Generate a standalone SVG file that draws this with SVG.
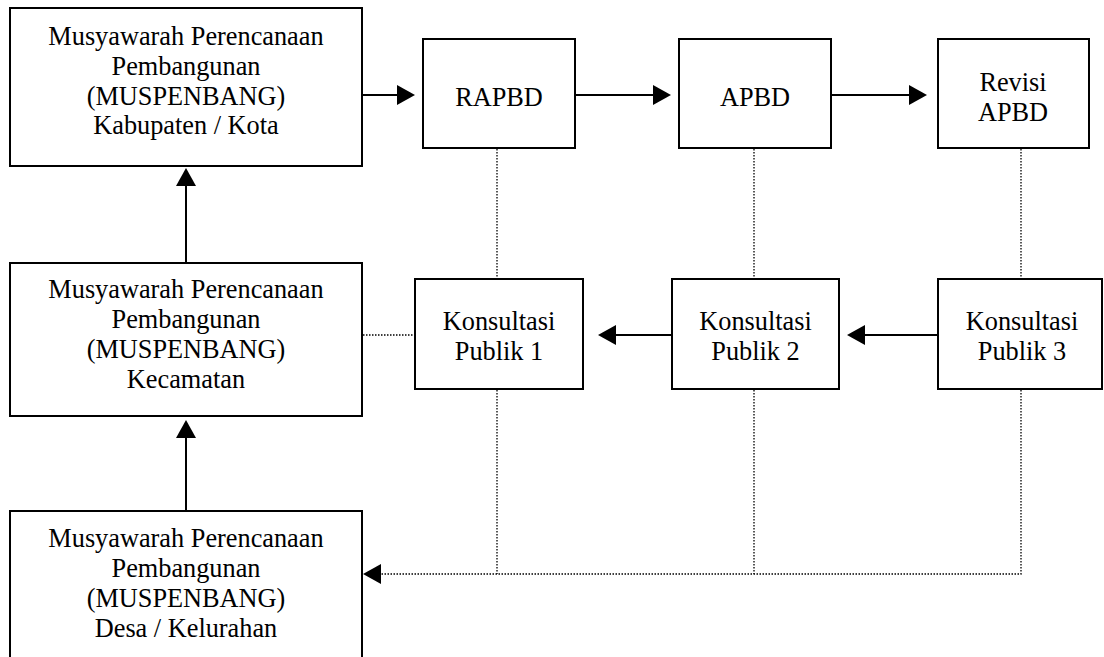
<svg xmlns="http://www.w3.org/2000/svg" width="1104" height="657" viewBox="0 0 1104 657">
<defs>
<style>
.box{fill:#fff;stroke:#000;stroke-width:2}
.t{font-family:"Liberation Serif","Times New Roman",serif;font-size:26.3px;fill:#000;text-anchor:middle}
.solid{fill:none;stroke:#000;stroke-width:2}
.dot{fill:none;stroke:#000;stroke-width:1.3;stroke-dasharray:1.5 1.5}
</style>
<marker id="ah" viewBox="0 0 18 20" refX="0" refY="10" markerWidth="18" markerHeight="20" markerUnits="userSpaceOnUse" orient="auto">
<path d="M0,0 L18,10 L0,20 z" fill="#000"/>
</marker>
</defs>
<rect width="1104" height="657" fill="#fff"/>
<g id="connectors">
<line class="solid" x1="362" y1="95" x2="397" y2="95" marker-end="url(#ah)"/>
<line class="solid" x1="575" y1="95" x2="653" y2="95" marker-end="url(#ah)"/>
<line class="solid" x1="831" y1="95" x2="909" y2="95" marker-end="url(#ah)"/>
<line class="solid" x1="672" y1="335" x2="616" y2="335" marker-end="url(#ah)"/>
<line class="solid" x1="938" y1="335" x2="865" y2="335" marker-end="url(#ah)"/>
<line class="solid" x1="186" y1="263" x2="186" y2="186" marker-end="url(#ah)"/>
<line class="solid" x1="186" y1="511" x2="186" y2="438" marker-end="url(#ah)"/>
<line class="dot" x1="497" y1="149" x2="497" y2="278"/>
<line class="dot" x1="754" y1="149" x2="754" y2="278"/>
<line class="dot" x1="1021" y1="149" x2="1021" y2="278"/>
<line class="dot" x1="363" y1="335" x2="414" y2="335"/>
<line class="dot" x1="497" y1="390" x2="497" y2="574"/>
<line class="dot" x1="754" y1="390" x2="754" y2="574"/>
<polyline class="dot" points="1021,390 1021,574 381,574" marker-end="url(#ah)"/>
</g>
<g id="muspenbang-kabupaten">
<rect class="box" x="10" y="8" width="352" height="158"/>
<text class="t" x="186" y="45">Musyawarah Perencanaan</text>
<text class="t" x="186" y="75">Pembangunan</text>
<text class="t" x="186" y="105">(MUSPENBANG)</text>
<text class="t" x="186" y="134">Kabupaten / Kota</text>
</g>
<g id="muspenbang-kecamatan">
<rect class="box" x="10" y="263" width="352" height="153"/>
<text class="t" x="186" y="298">Musyawarah Perencanaan</text>
<text class="t" x="186" y="328">Pembangunan</text>
<text class="t" x="186" y="358">(MUSPENBANG)</text>
<text class="t" x="186" y="388">Kecamatan</text>
</g>
<g id="muspenbang-desa">
<rect class="box" x="10" y="511" width="352" height="170"/>
<text class="t" x="186" y="547">Musyawarah Perencanaan</text>
<text class="t" x="186" y="577">Pembangunan</text>
<text class="t" x="186" y="607">(MUSPENBANG)</text>
<text class="t" x="186" y="637">Desa / Kelurahan</text>
</g>
<g id="rapbd">
<rect class="box" x="423" y="39" width="152" height="109"/>
<text class="t" x="499" y="106">RAPBD</text>
</g>
<g id="apbd">
<rect class="box" x="679" y="39" width="152" height="109"/>
<text class="t" x="755" y="106">APBD</text>
</g>
<g id="revisi-apbd">
<rect class="box" x="938" y="39" width="151" height="109"/>
<text class="t" x="1013" y="91">Revisi</text>
<text class="t" x="1013" y="121">APBD</text>
</g>
<g id="konsultasi-1">
<rect class="box" x="415" y="279" width="168" height="110"/>
<text class="t" x="499" y="330">Konsultasi</text>
<text class="t" x="499" y="360">Publik 1</text>
</g>
<g id="konsultasi-2">
<rect class="box" x="672" y="279" width="167" height="110"/>
<text class="t" x="755.5" y="330">Konsultasi</text>
<text class="t" x="755.5" y="360">Publik 2</text>
</g>
<g id="konsultasi-3">
<rect class="box" x="938" y="279" width="164" height="110"/>
<text class="t" x="1022" y="330">Konsultasi</text>
<text class="t" x="1022" y="360">Publik 3</text>
</g>
</svg>
